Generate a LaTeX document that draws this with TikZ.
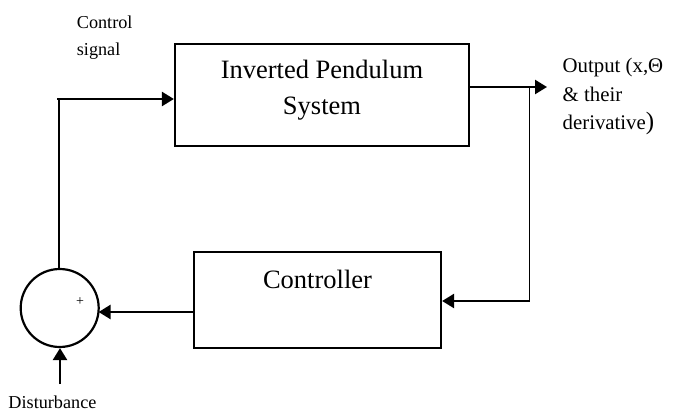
\documentclass[tikz,border=0pt]{standalone}
\usepackage{fontspec}
\setmainfont{Liberation Serif}
\usetikzlibrary{arrows.meta}
\begin{document}
\begin{tikzpicture}[x=1pt,y=-1pt,
  blk/.style={draw,line width=2.2pt,inner sep=0pt},
  ln/.style={line width=2.4pt},
  arr/.style={line width=2.4pt,-{Triangle[length=12pt,width=14pt]}},
  big/.style={font=\fontsize{26.5}{36}\selectfont},
  small/.style={font=\fontsize{18.2}{27.5}\selectfont},
  outl/.style={font=\fontsize{20.8}{28.3}\selectfont}]
\useasboundingbox (0,0) rectangle (681,412);
% blocks
\node[blk,minimum width=294pt,minimum height=102pt] (sys) at (322,95) {};
\node[big,align=center,anchor=base] (systxt) at (322,115) {Inverted Pendulum\\System};
\node[blk,minimum width=247pt,minimum height=96pt] (ctrl) at (317.5,300) {};
\node[big,anchor=base] (ctrltxt) at (317.5,288.3) {Controller};
\node[draw,line width=2.2pt,circle,minimum size=78pt,inner sep=0pt] (sum) at (59.7,308) {};
\node[font=\fontsize{14}{14}\selectfont] (plus) at (80,302) {+};
% labels
\node[small,align=left,anchor=base west,inner sep=0pt] (cs) at (76.7,56) {Control\\signal};
\node[outl,align=left,anchor=base west,inner sep=0pt] (out) at (562.5,129.3) {Output (x,Θ\\\& their\\derivative{\fontsize{25}{25}\selectfont)}};
\node[small,anchor=base west,inner sep=0pt] (dist) at (8.3,408.5) {Disturbance};
% coordinates
\coordinate (csstart) at (57,99);
\coordinate (csin) at (sys.west |- csstart);
\coordinate (csdown) at (58.7,99);
\coordinate (sysout) at (sys.east |- 0,87);
\coordinate (outtip) at (547,87);
\coordinate (fbtop) at (529.5,87);
\coordinate (fbbot) at (529.5,301);
\coordinate (ctrlin) at (ctrl.east |- fbbot);
\coordinate (ctrlout) at (ctrl.west |- 0,312);
\coordinate (sumin) at (98.6,312);
\coordinate (dstart) at (60,384);
% connectors
\draw[arr] (csstart) -- (csin);
\draw[ln] (csdown) -- (csdown |- sum.north);
\draw[arr] (sysout) -- (outtip);
\draw[line width=1.8pt] (fbtop) -- (fbbot);
\draw[arr] (fbbot) -- (ctrlin);
\draw[arr] (ctrlout) -- (sumin);
\draw[arr] (dstart) -- (dstart |- sum.south);
\end{tikzpicture}
\end{document}
